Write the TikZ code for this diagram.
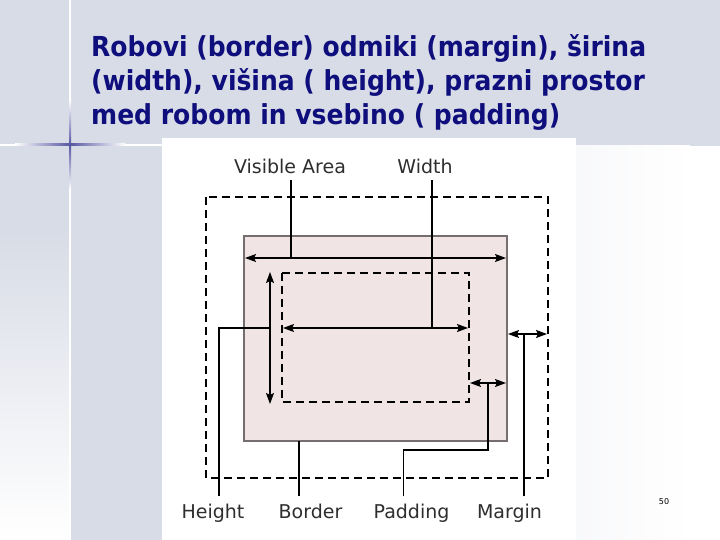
\documentclass[tikz,border=0pt]{standalone}
\usepackage{fontspec}
\setmainfont{DejaVu Sans}
\usetikzlibrary{arrows.meta}
\definecolor{slidebg}{RGB}{216,220,230}
\definecolor{titleblue}{RGB}{14,14,124}
\definecolor{boxfill}{RGB}{240,228,228}
\definecolor{boxline}{RGB}{118,110,110}
\tikzset{
  titletext/.style={anchor=base west,inner sep=0pt,text=titleblue,
    font=\fontsize{27.5}{34}\selectfont\bfseries},
  lbl/.style={anchor=base,inner sep=0pt,text=black!82,font=\fontsize{19}{22}\selectfont},
  dimarrow/.style={line width=1.2pt,{Stealth[length=11pt,width=8pt,inset=2pt]}-{Stealth[length=11pt,width=8pt,inset=2pt]}},
  leader/.style={line width=1.7pt},
  dashbox/.style={line width=1.8pt,dash pattern=on 8pt off 5pt}
}
\newcommand{\squeeze}[1]{\scalebox{.91}[1]{#1}}

\begin{document}
\begin{tikzpicture}[x=1pt,y=-1pt]
  \useasboundingbox (0,0) rectangle (720,540);
  % slide background
  \fill[white] (0,0) rectangle (720,540);
  \fill[slidebg] (0,0) rectangle (720,146);
  \fill[slidebg] (0,146) rectangle (162,230);
  \fill[slidebg] (70,146) rectangle (162,540);
  \shade[top color=slidebg,bottom color=white] (0,230) rectangle (69,540);
  \shade[left color=slidebg!18,right color=white] (576,146) rectangle (690,540);
  \fill[white] (69,0) rectangle (71,540);
  \fill[white] (0,144) rectangle (162,146);
  \shade[left color=white,right color=white,middle color=titleblue!70] (15,144) rectangle (125,146);
  \shade[top color=white,bottom color=white,middle color=titleblue!70] (69,100) rectangle (71,190);
  \fill[white] (162,138) rectangle (576,540);

  \node[titletext] (title1) at (91,57) {\squeeze{Robovi (border) odmiki (margin), širina}};
  \node[titletext] (title2) at (91,91) {\squeeze{(width), višina ( height), prazni prostor}};
  \node[titletext] (title3) at (91,125) {\squeeze{med robom in vsebino ( padding)}};

  % boxes
  \draw[dashbox] (206,197) rectangle (548,478);
  \coordinate (bd-nw) at (244,236); \coordinate (bd-se) at (507,441);
  \filldraw[fill=boxfill,draw=boxline,line width=2.5pt] (bd-nw) rectangle (bd-se);
  \draw[dashbox] (282,273) rectangle (469,402);

  % labels
  \node[lbl] (visarea) at (290,174) {Visible Area};
  \node[lbl] (width) at (425,174) {Width};
  \node[lbl] (height) at (213,518) {Height};
  \node[lbl] (border) at (310.5,518) {Border};
  \node[lbl] (padding) at (411.5,518) {Padding};
  \node[lbl] (margin) at (509.5,518) {Margin};
  \node[inner sep=0pt,font=\fontsize{8}{10}\selectfont] (pagenum) at (664,502) {50};

  % dimension arrows
  \coordinate (va-l) at (245,258); \coordinate (va-r) at (506,258);
  \coordinate (wd-l) at (283,328); \coordinate (wd-r) at (468,328);
  \coordinate (ht-t) at (270,272); \coordinate (ht-b) at (270,404);
  \coordinate (pd-l) at (470,383); \coordinate (pd-r) at (506,383);
  \coordinate (mg-l) at (508,334); \coordinate (mg-r) at (547,334);
  \coordinate (pd-k) at (488,450);
  \draw[dimarrow] (va-l) -- (va-r);
  \draw[dimarrow] (wd-l) -- (wd-r);
  \draw[dimarrow] (ht-t) -- (ht-b);
  \draw[dimarrow] (pd-l) -- (pd-r);
  \draw[dimarrow] (mg-l) -- (mg-r);

  % leaders
  \draw[leader] ([xshift=1pt,yshift=-6pt]visarea.south) -- ([xshift=1pt]visarea.south |- va-l);
  \draw[leader] ([xshift=7pt,yshift=-6pt]width.south) -- ([xshift=7pt]width.south |- wd-l);
  \draw[leader] ([xshift=6pt,yshift=7pt]height.north) |- (ht-t |- wd-l);
  \draw[leader] ([xshift=-11.5pt,yshift=7pt]border.north) -- ([xshift=-11.5pt]border.north |- bd-se);
  \draw[leader] ([xshift=-8pt,yshift=7pt]padding.north) |- (pd-k) -- (pd-k |- pd-l);
  \draw[leader] ([xshift=14.5pt,yshift=7pt]margin.north) -- ([xshift=14.5pt]margin.north |- mg-l);
\end{tikzpicture}
\end{document}
